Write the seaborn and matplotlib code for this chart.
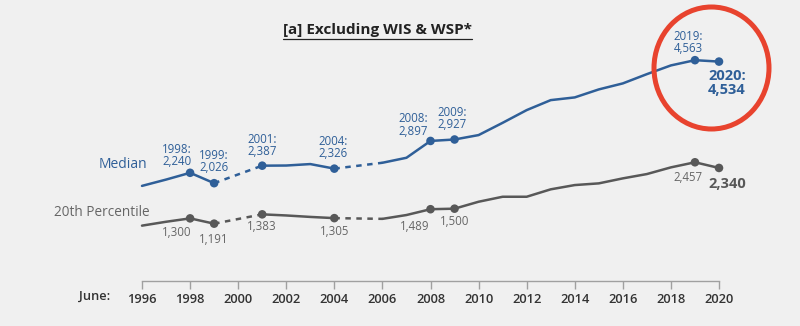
import matplotlib
matplotlib.use("Agg")
import matplotlib.pyplot as plt
import seaborn as sns
import pandas as pd
from matplotlib.patches import Ellipse
from matplotlib.lines import Line2D

# ---------------- data ----------------
years = [1996, 1997, 1998, 1999, 2001, 2002, 2003, 2004, 2006, 2007, 2008, 2009,
         2010, 2011, 2012, 2013, 2014, 2015, 2016, 2017, 2018, 2019, 2020]
median = [1970, 2100, 2240, 2026, 2387, 2390, 2420, 2326, 2447, 2550, 2897, 2927,
          3018, 3271, 3533, 3739, 3795, 3960, 4084, 4275, 4455, 4563, 4534]
pct20 = [1150, 1230, 1300, 1191, 1383, 1360, 1330, 1305, 1290, 1369, 1489, 1500,
         1643, 1746, 1746, 1899, 1987, 2022, 2125, 2214, 2352, 2457, 2340]
marked_years = [1998, 1999, 2001, 2004, 2008, 2009, 2019, 2020]
gap_pairs = [(1999, 2001), (2004, 2006)]
tick_years = list(range(1996, 2021, 2))
title = "[a] Excluding WIS & WSP*"

df = pd.DataFrame({"year": years, "Median": median, "20th Percentile": pct20})

# ---------------- style ----------------
BG = "#f0f0f0"
BLUE = "#2f5f98"
GRAY = "#585858"
sns.set_theme(style="white")
plt.rcParams["font.family"] = ["Open Sans", "DejaVu Sans"]

fig = plt.figure(figsize=(8, 3.26), dpi=100, facecolor=BG)
ax = fig.add_axes([142 / 800, 44.6 / 326, 577 / 800, 271.5 / 326])
ax.set_facecolor(BG)


def segments(ys):
    segs, cur = [], [ys[0]]
    for a, b in zip(ys[:-1], ys[1:]):
        if (a, b) in gap_pairs:
            segs.append(cur)
            cur = [b]
        else:
            cur.append(b)
    segs.append(cur)
    return segs


for col, color in [("Median", BLUE), ("20th Percentile", GRAY)]:
    for seg in segments(years):
        sub = df[df["year"].isin(seg)]
        sns.lineplot(data=sub, x="year", y=col, ax=ax, color=color, lw=1.8,
                     clip_on=False)
    for a, b in gap_pairs:
        sub = df[df["year"].isin([a, b])]
        sns.lineplot(data=sub, x="year", y=col, ax=ax, color=color, lw=1.8,
                     linestyle=(0, (2.2, 2.2)), clip_on=False)
    mk = df[df["year"].isin(marked_years)]
    sns.scatterplot(data=mk, x="year", y=col, ax=ax, color=color, s=38,
                    edgecolor="none", zorder=5, clip_on=False)

ax.set_xlim(1996, 2020)
ax.set_ylim(0, 5600)
ax.set_xlabel("")
ax.set_ylabel("")
ax.set_yticks([])
ax.set_xticks(tick_years)
ax.set_xticklabels([str(y) for y in tick_years], fontsize=9.3,
                   fontweight="semibold", color="#333333")
ax.tick_params(axis="x", direction="out", length=6, width=1, color="#a0a0a0",
               pad=2.0, bottom=True)
for s in ["top", "left", "right"]:
    ax.spines[s].set_visible(False)
ax.spines["bottom"].set_color("#a0a0a0")
ax.spines["bottom"].set_linewidth(1)

# ---------------- annotations ----------------
med = dict(zip(years, median))
p20 = dict(zip(years, pct20))

med_offsets = {1998: (-13, 17), 1999: (0, 22), 2001: (0, 20), 2004: (-1, 21),
               2008: (-17, 16), 2009: (-2, 21), 2019: (-7, 17.5)}
for y, (dx, dy) in med_offsets.items():
    ax.annotate(f"{y}:\n{med[y]:,}", xy=(y, med[y]), xytext=(dx, dy),
                textcoords="offset pixels", ha="center", va="center",
                fontsize=8.3, color=BLUE, linespacing=0.92, annotation_clip=False)
ax.annotate(f"2020:\n{med[2020]:,}", xy=(2020, med[2020]), xytext=(-11, -21),
            textcoords="offset pixels", ha="left", va="center", fontsize=10.5,
            fontweight="bold", color=BLUE, linespacing=1.0, annotation_clip=False)

p20_offsets = {1998: (-13, -14), 1999: (0, -16), 2001: (0, -12), 2004: (0, -13),
               2008: (-16, -17), 2009: (0, -13), 2019: (-7, -15.5)}
for y, (dx, dy) in p20_offsets.items():
    ax.annotate(f"{p20[y]:,}", xy=(y, p20[y]), xytext=(dx, dy),
                textcoords="offset pixels", ha="center", va="center",
                fontsize=8.3, color="#666666", annotation_clip=False)
ax.annotate(f"{p20[2020]:,}", xy=(2020, p20[2020]), xytext=(-11, -16.5),
            textcoords="offset pixels", ha="left", va="center", fontsize=10.5,
            fontweight="bold", color=GRAY, annotation_clip=False)

# series labels
fig.text(122.5 / 800, 1 - 165 / 326, "Median", ha="center", va="center",
         fontsize=10, color=BLUE)
fig.text(101.5 / 800, 1 - 212.7 / 326, "20th Percentile", ha="center",
         va="center", fontsize=9.8, color="#666666")
fig.text(110 / 800, 1 - 296 / 326, "June:", ha="right", va="center",
         fontsize=9.3, fontweight="semibold", color="#333333")

# title with underline
t = fig.text(377.5 / 800, 1 - 30 / 326, title, ha="center", va="center",
             fontsize=11, fontweight="bold", color="#222222")
fig.canvas.draw()
bb = t.get_window_extent(fig.canvas.get_renderer())
uy = 1 - 39 / 326
fig.add_artist(Line2D([bb.x0 / 800, bb.x1 / 800], [uy, uy],
                      transform=fig.transFigure, color="#222222", lw=0.9))

# red circle highlight
fig.add_artist(Ellipse((711.5 / 800, 1 - 68 / 326), 115 / 800, 122 / 326,
                       transform=fig.transFigure, fill=False,
                       edgecolor="#e8432e", lw=3.6))

fig.savefig("out.png", dpi=100, facecolor=BG)
